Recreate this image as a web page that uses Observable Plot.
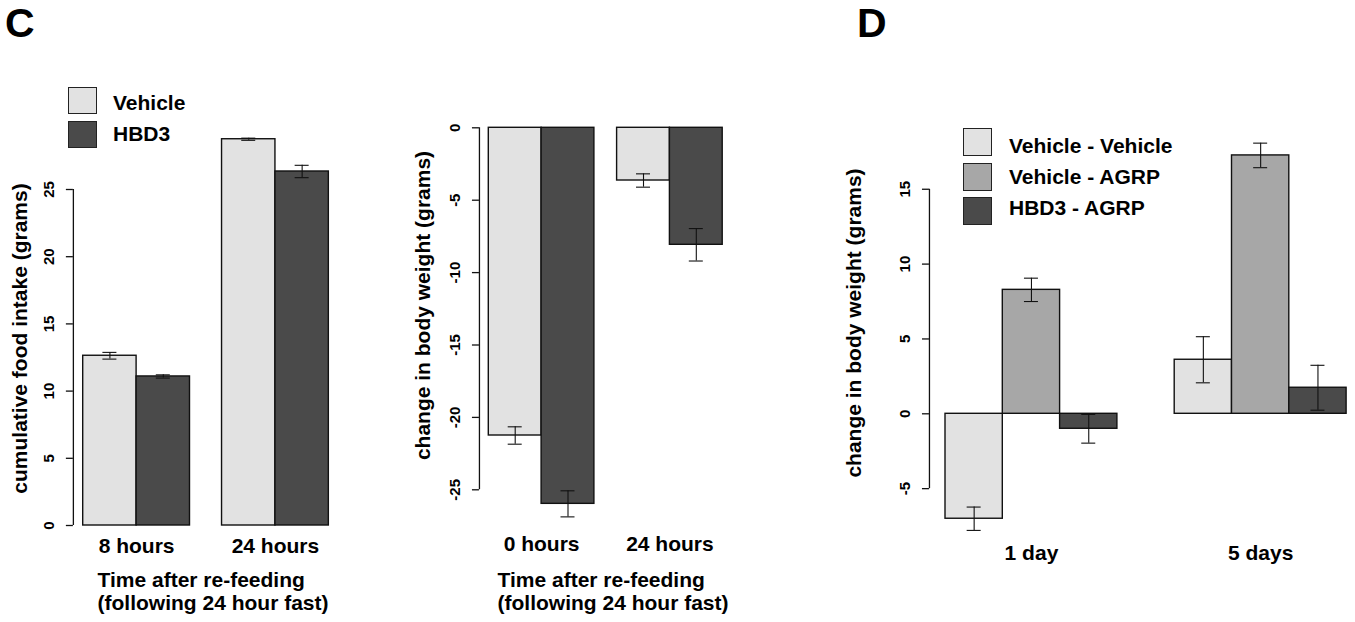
<!DOCTYPE html>
<html><head><meta charset="utf-8">
<script src="https://cdn.jsdelivr.net/npm/d3@7"></script>
<script src="https://cdn.jsdelivr.net/npm/@observablehq/plot@0.6"></script>
<style>
html,body{margin:0;padding:0;background:#fff;}
#fig{position:relative;width:1355px;height:622px;overflow:hidden;font-family:"Liberation Sans",Arial,Helvetica,sans-serif;font-weight:bold;color:#000;}
.letter{position:absolute;font-size:41px;line-height:41px;}
.key{position:absolute;box-sizing:border-box;border:1.5px solid #222;}
.keytext{position:absolute;font-size:21px;line-height:24px;white-space:nowrap;}
</style></head><body><div id="fig"></div>
<script>
// ---------- data ----------
const foodTimes = ["8 hours", "24 hours"];
const foodSeries = ["Vehicle", "HBD3"];
const foodVehicle = [12.63, 28.74];
const foodVehicleSE = [0.25, 0.08];
const foodHBD3 = [11.09, 26.34];
const foodHBD3SE = [0.12, 0.46];
const foodTicks = [0, 5, 10, 15, 20, 25];

const weightTimes = ["0 hours", "24 hours"];
const weightVehicle = [-21.25, -3.64];
const weightVehicleSE = [0.6, 0.46];
const weightHBD3 = [-25.97, -8.08];
const weightHBD3SE = [0.9, 1.12];
const weightTicks = [0, -5, -10, -15, -20, -25];

const agrpTimes = ["1 day", "5 days"];
const agrpSeries = ["Vehicle - Vehicle", "Vehicle - AGRP", "HBD3 - AGRP"];
const vehVeh = [-7.01, 3.61];
const vehVehSE = [0.78, 1.54];
const vehAgrp = [8.28, 17.26];
const vehAgrpSE = [0.78, 0.82];
const hbdAgrp = [-1.0, 1.74];
const hbdAgrpSE = [0.96, 1.5];
const agrpTicks = [-5, 0, 5, 10, 15];

const foodYLabel = "cumulative food intake (grams)";
const weightYLabel = "change in body weight (grams)";
const refeedXLabel = "Time after re-feeding\n(following 24 hour fast)";

// ---------- styles ----------
const LIGHT = "#e2e2e2", MID = "#a7a7a7", DARK = "#4a4a4a";
const FONT = '"Liberation Sans", Arial, Helvetica, sans-serif';
const H = 622;

function buildRows(groups, series, values, errors, colors, gap) {
  const n = series.length, rows = [];
  groups.forEach((g, gi) => series.forEach((s, si) => {
    const x1 = gi * (n + gap) + si;
    rows.push({group: g, series: s, x1, x2: x1 + 1, xc: x1 + 0.5,
               value: values[si][gi], se: errors[si][gi], color: colors[si]});
  }));
  return rows;
}

function panel(cfg) {
  const n = cfg.series.length, G = cfg.groups.length;
  const span = G * n + (G - 1) * cfg.gap;
  const pad = 0.04 * span;
  const marginLeft = cfg.firstBarPx - cfg.left - pad * cfg.unit;
  const marginRight = cfg.width - (marginLeft + (span + 2 * pad) * cfg.unit);
  const xDomain = [-pad, span + pad];
  const yDomain = [(cfg.zeroPx - cfg.bottomPx) / cfg.ppu, (cfg.zeroPx - cfg.topPx) / cfg.ppu];
  const rows = buildRows(cfg.groups, cfg.series, cfg.values, cfg.errors, cfg.colors, cfg.gap);
  const centers = cfg.groups.map((g, gi) => ({label: g, x: gi * (n + cfg.gap) + n / 2}));
  const cap = 7 / cfg.unit;
  const marks = [
    Plot.rect(rows, {x1: "x1", x2: "x2", y1: 0, y2: "value", fill: "color", stroke: "#111", strokeWidth: 1.4}),
    Plot.ruleX(rows, {x: "xc", y1: d => d.value - d.se, y2: d => d.value + d.se, stroke: "#111", strokeWidth: 1.1}),
    Plot.ruleY(rows, {y: d => d.value + d.se, x1: d => d.xc - cap, x2: d => d.xc + cap, stroke: "#111", strokeWidth: 1.1}),
    Plot.ruleY(rows, {y: d => d.value - d.se, x1: d => d.xc - cap, x2: d => d.xc + cap, stroke: "#111", strokeWidth: 1.1}),
    Plot.ruleX([xDomain[0]], {y1: d3.min(cfg.ticks), y2: d3.max(cfg.ticks), stroke: "#111", strokeWidth: 1.3}),
    Plot.axisY(cfg.ticks, {anchor: "left", tickRotate: -90, tickSize: 7, tickPadding: 12.5,
      tickFormat: d => String(d), label: null, fontSize: 15, fontWeight: "bold", stroke: "#111", strokeWidth: 1.3}),
    Plot.text(centers, {x: "x", text: "label", frameAnchor: "bottom", lineAnchor: "middle",
      dy: cfg.groupDy, fontSize: 21, fontWeight: "bold"}),
    Plot.text([cfg.yLabel], {frameAnchor: "left", rotate: -90, textAnchor: "middle", lineAnchor: "middle",
      dx: cfg.yLabelX - cfg.left - marginLeft, dy: cfg.yLabelDy, fontSize: 21, fontWeight: "bold"})
  ];
  if (cfg.xLabel) {
    marks.push(Plot.text([cfg.xLabel], {frameAnchor: "bottom-left", textAnchor: "start", lineAnchor: "top",
      dx: cfg.xLabelX - cfg.left - marginLeft, dy: cfg.xLabelDy, lineHeight: 1.1, fontSize: 21, fontWeight: "bold"}));
  }
  const svg = Plot.plot({
    width: cfg.width, height: H,
    marginLeft, marginRight, marginTop: cfg.topPx, marginBottom: H - cfg.bottomPx,
    x: {domain: xDomain, axis: null},
    y: {domain: yDomain, axis: null},
    color: {type: "identity"},
    style: {fontFamily: FONT, fontWeight: "bold", fontSize: "15px", background: "transparent", overflow: "visible", color: "#000"},
    marks
  });
  svg.style.position = "absolute";
  svg.style.left = cfg.left + "px";
  svg.style.top = "0px";
  return svg;
}

const fig = document.getElementById("fig");

fig.appendChild(panel({
  left: 0, width: 360, firstBarPx: 82.7, unit: 53.4, gap: 0.6,
  zeroPx: 525, ppu: 13.44, topPx: 100, bottomPx: 540,
  groups: foodTimes, series: foodSeries,
  values: [foodVehicle, foodHBD3], errors: [foodVehicleSE, foodHBD3SE], colors: [LIGHT, DARK],
  ticks: foodTicks, yLabel: foodYLabel, yLabelX: 20, yLabelDy: 18, groupDy: 6,
  xLabel: refeedXLabel, xLabelX: 97, xLabelDy: 30
}));

fig.appendChild(panel({
  left: 370, width: 390, firstBarPx: 488.3, unit: 52.8, gap: 0.43,
  zeroPx: 127.3, ppu: 14.48, topPx: 100, bottomPx: 540,
  groups: weightTimes, series: foodSeries,
  values: [weightVehicle, weightHBD3], errors: [weightVehicleSE, weightHBD3SE], colors: [LIGHT, DARK],
  ticks: weightTicks, yLabel: weightYLabel, yLabelX: 423, yLabelDy: -15, groupDy: 4,
  xLabel: refeedXLabel, xLabelX: 497, xLabelDy: 30
}));

fig.appendChild(panel({
  left: 790, width: 580, firstBarPx: 945, unit: 57.3, gap: 1,
  zeroPx: 413.3, ppu: 14.97, topPx: 100, bottomPx: 547,
  groups: agrpTimes, series: agrpSeries,
  values: [vehVeh, vehAgrp, hbdAgrp], errors: [vehVehSE, vehAgrpSE, hbdAgrpSE], colors: [LIGHT, MID, DARK],
  ticks: agrpTicks, yLabel: weightYLabel, yLabelX: 853.3, yLabelDy: -1, groupDy: 5.5
}));

// panel letters
function addDiv(cls, text, style) {
  const d = document.createElement("div");
  d.className = cls;
  if (text) d.textContent = text;
  Object.assign(d.style, style);
  fig.appendChild(d);
}
addDiv("letter", "C", {left: "5px", top: "3px"});
addDiv("letter", "D", {left: "857px", top: "3px"});

// legends
const legend1 = [{label: foodSeries[0], color: LIGHT, boxTop: 86.7, textY: 102.8},
                 {label: foodSeries[1], color: DARK, boxTop: 120.5, textY: 134}];
legend1.forEach(k => {
  addDiv("key", "", {left: "68.3px", top: k.boxTop + "px", width: "28.5px", height: "27.5px", background: k.color});
  addDiv("keytext", k.label, {left: "113px", top: (k.textY - 12) + "px"});
});
const legend2 = [{label: agrpSeries[0], color: LIGHT, boxTop: 128.3, textY: 145.7},
                 {label: agrpSeries[1], color: MID, boxTop: 162.7, textY: 177},
                 {label: agrpSeries[2], color: DARK, boxTop: 197.3, textY: 207.5}];
legend2.forEach(k => {
  addDiv("key", "", {left: "963.3px", top: k.boxTop + "px", width: "29px", height: "28px", background: k.color});
  addDiv("keytext", k.label, {left: "1009px", top: (k.textY - 12) + "px"});
});
</script></body></html>
